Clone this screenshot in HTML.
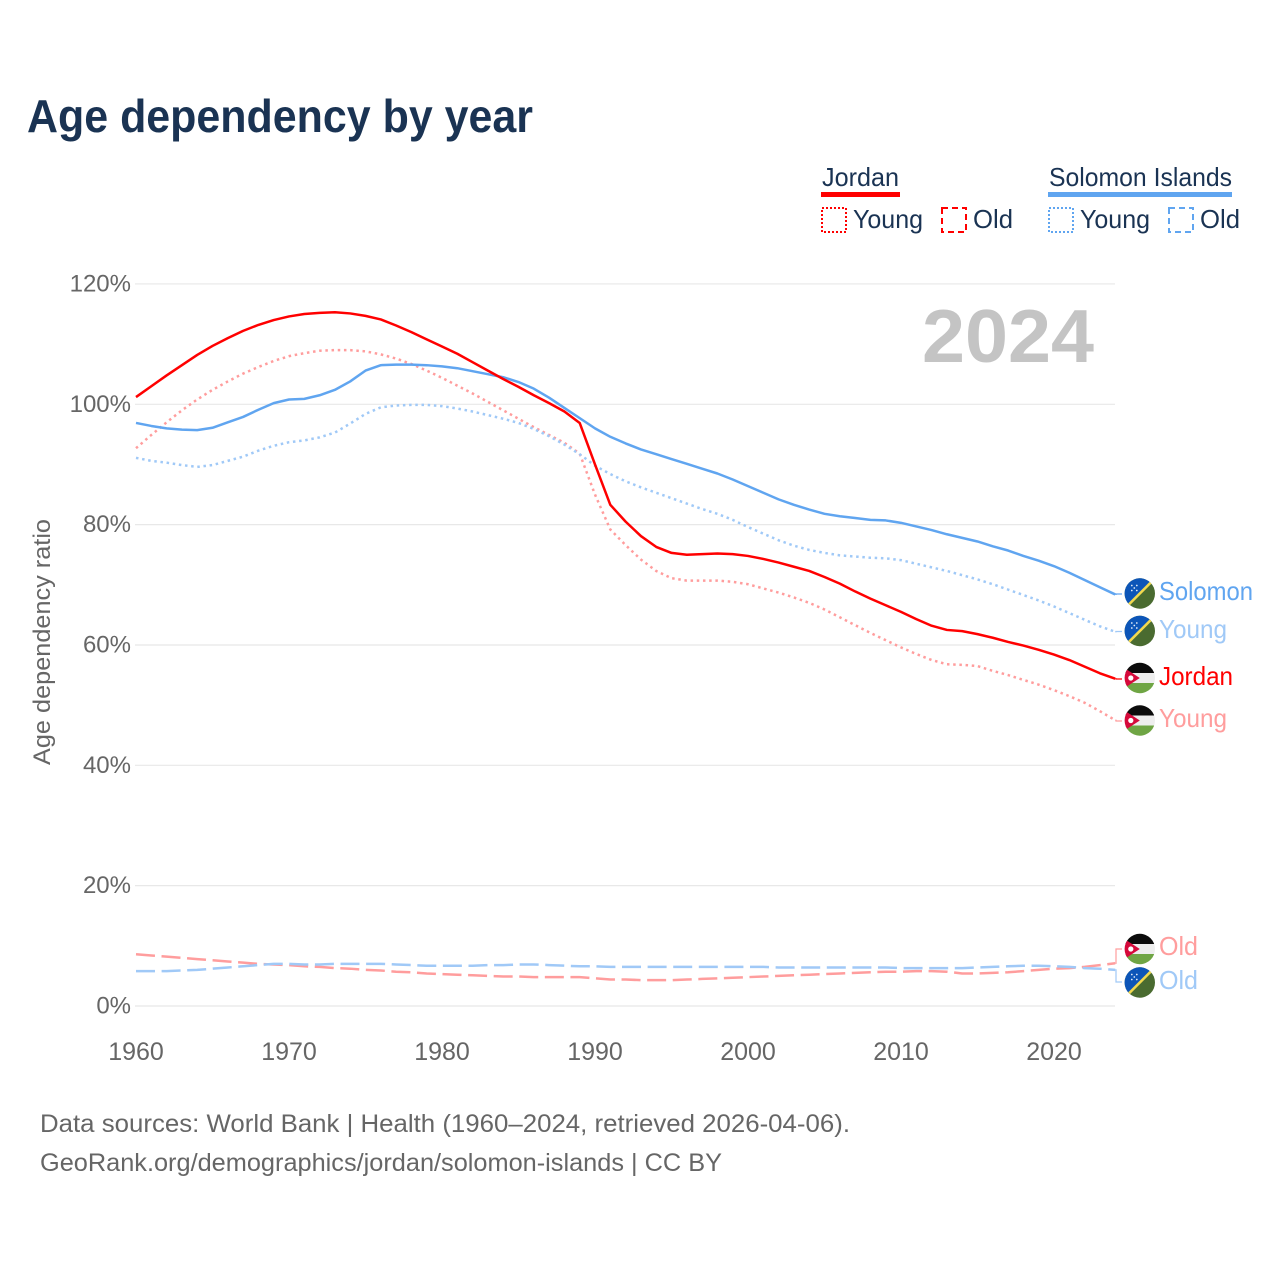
<!DOCTYPE html>
<html lang="en">
<head>
<meta charset="utf-8">
<title>Age dependency by year</title>
<style>
html,body{margin:0;padding:0;background:#fff;width:1280px;height:1280px;overflow:hidden}
svg{display:block}
text{font-family:"Liberation Sans",sans-serif}
</style>
</head>
<body>
<svg id="chart" width="1280" height="1280" viewBox="0 0 1280 1280" xmlns="http://www.w3.org/2000/svg">
<defs>
  <clipPath id="flag-clip"><circle cx="0" cy="0" r="15.2"/></clipPath>
  <g id="flag-solomon" clip-path="url(#flag-clip)">
    <rect x="-16" y="-16" width="32" height="32" fill="#4a6b30"/>
    <polygon points="-16,16 16,-16 -16,-16" fill="#0c55b8"/>
    <line x1="-16" y1="16" x2="16" y2="-16" stroke="#f2d94e" stroke-width="2.6"/>
    <g fill="#dfeaf8">
      <circle cx="-8" cy="-8" r="0.9"/><circle cx="-3" cy="-8" r="0.9"/><circle cx="-5.5" cy="-5.5" r="0.9"/><circle cx="-8" cy="-3" r="0.9"/><circle cx="-3" cy="-3" r="0.9"/>
    </g>
  </g>
  <g id="flag-jordan" clip-path="url(#flag-clip)">
    <rect x="-16" y="-16" width="32" height="11" fill="#0c0c0c"/>
    <rect x="-16" y="-5" width="32" height="10" fill="#eeeeee"/>
    <rect x="-16" y="5" width="32" height="11" fill="#6fa544"/>
    <polygon points="-16,-10.5 -16,10.5 0,0" fill="#d6093a"/>
    <circle cx="-9" cy="0" r="2.6" fill="#fff"/>
  </g>
</defs>

<text x="27" y="132" font-size="46" font-weight="700" fill="#1a3353" textLength="506" lengthAdjust="spacingAndGlyphs">Age dependency by year</text>

<g fill="#1a3353" font-size="26">
  <text x="822" y="186" textLength="77" lengthAdjust="spacingAndGlyphs">Jordan</text>
  <rect x="821" y="192" width="79" height="5" fill="#ff0000"/>
  <rect x="822" y="208" width="24" height="24" fill="none" stroke="#ff0000" stroke-width="2" stroke-dasharray="2 2"/>
  <text x="853" y="228" textLength="70" lengthAdjust="spacingAndGlyphs">Young</text>
  <rect x="942" y="208" width="24" height="24" fill="none" stroke="#ff0000" stroke-width="2" stroke-dasharray="6 4"/>
  <text x="973" y="228" textLength="40" lengthAdjust="spacingAndGlyphs">Old</text>
  <text x="1049" y="186" textLength="183" lengthAdjust="spacingAndGlyphs">Solomon Islands</text>
  <rect x="1048" y="192" width="184" height="5" fill="#60a5f0"/>
  <rect x="1049" y="208" width="24" height="24" fill="none" stroke="#60a5f0" stroke-width="2" stroke-dasharray="2 2"/>
  <text x="1080" y="228" textLength="70" lengthAdjust="spacingAndGlyphs">Young</text>
  <rect x="1169" y="208" width="24" height="24" fill="none" stroke="#60a5f0" stroke-width="2" stroke-dasharray="6 4"/>
  <text x="1200" y="228" textLength="40" lengthAdjust="spacingAndGlyphs">Old</text>
</g>

<g id="grid"></g>
<g id="yticks"></g>
<g id="xticks"></g>

<text transform="translate(50,765) rotate(-90)" x="0" y="0" font-size="24" fill="#666666" textLength="246" lengthAdjust="spacingAndGlyphs">Age dependency ratio</text>

<text x="922" y="362" font-size="75" font-weight="700" fill="#c4c4c4" textLength="172" lengthAdjust="spacingAndGlyphs">2024</text>

<g id="series"></g>

<g font-size="26">
  <use href="#flag-solomon" x="1139.8" y="593.5"/>
  <text x="1159" y="600" fill="#60a5f0" textLength="94" lengthAdjust="spacingAndGlyphs">Solomon</text>
  <use href="#flag-solomon" x="1139.8" y="631"/>
  <text x="1159" y="638" fill="#a0c9f7" textLength="68" lengthAdjust="spacingAndGlyphs">Young</text>
  <use href="#flag-jordan" x="1139.8" y="678"/>
  <text x="1159" y="685" fill="#ff0000" textLength="74" lengthAdjust="spacingAndGlyphs">Jordan</text>
  <use href="#flag-jordan" x="1139.8" y="720.5"/>
  <text x="1159" y="727" fill="#ff9d9d" textLength="68" lengthAdjust="spacingAndGlyphs">Young</text>
  <use href="#flag-jordan" x="1139.8" y="949"/>
  <text x="1159" y="955" fill="#ff9d9d" textLength="39" lengthAdjust="spacingAndGlyphs">Old</text>
  <use href="#flag-solomon" x="1139.8" y="982.5"/>
  <text x="1159" y="989" fill="#a0c9f7" textLength="39" lengthAdjust="spacingAndGlyphs">Old</text>
</g>

<g font-size="25" fill="#666666">
  <text x="40" y="1132" textLength="810" lengthAdjust="spacingAndGlyphs">Data sources: World Bank | Health (1960–2024, retrieved 2026-04-06).</text>
  <text x="40" y="1171" textLength="682" lengthAdjust="spacingAndGlyphs">GeoRank.org/demographics/jordan/solomon-islands | CC BY</text>
</g>

<script>
var startYear = 1960;
var yTicks = [0, 20, 40, 60, 80, 100, 120];
var xTicks = [1960, 1970, 1980, 1990, 2000, 2010, 2020];

var jordanTotal = [101.2,103,104.8,106.5,108.2,109.7,111,112.2,113.2,114,
114.6,115,115.2,115.3,115.1,114.7,114.1,113.1,112,110.8,
109.6,108.4,107,105.6,104.2,102.9,101.5,100.2,98.8,96.9,
90,83.3,80.5,78.1,76.3,75.3,75,75.1,75.2,75.1,
74.8,74.3,73.7,73,72.3,71.3,70.2,68.9,67.7,66.6,
65.5,64.3,63.2,62.5,62.3,61.8,61.2,60.5,59.9,59.2,
58.4,57.5,56.4,55.3,54.4];

var jordanYoung = [92.7,94.9,97,99,100.8,102.4,103.8,105.1,106.2,107.2,
108,108.5,108.9,109,109,108.8,108.3,107.6,106.7,105.6,
104.4,103.1,101.8,100.4,99,97.6,96.2,94.9,93.6,91.8,
85,79.2,76.6,74.2,72.3,71.1,70.7,70.7,70.7,70.5,
70.1,69.4,68.7,67.9,67,65.9,64.6,63.3,62,60.8,
59.6,58.5,57.5,56.8,56.7,56.5,55.7,55,54.2,53.4,
52.5,51.5,50.4,49,47.5];

var jordanOld = [8.6,8.4,8.2,8,7.8,7.6,7.4,7.2,7,6.9,
6.8,6.6,6.5,6.3,6.2,6,5.9,5.7,5.6,5.4,
5.3,5.2,5.1,5,4.9,4.9,4.8,4.8,4.8,4.8,
4.6,4.4,4.4,4.3,4.3,4.3,4.4,4.5,4.6,4.7,
4.8,4.9,5,5.1,5.2,5.3,5.4,5.5,5.6,5.7,
5.7,5.8,5.8,5.7,5.4,5.4,5.5,5.6,5.8,6,
6.2,6.3,6.5,6.8,7.1];

var solomonTotal = [96.9,96.4,96,95.8,95.7,96.1,97,97.9,99.1,100.2,
100.8,100.9,101.5,102.4,103.8,105.6,106.5,106.6,106.6,106.5,
106.3,106,105.5,105,104.5,103.7,102.6,101.1,99.4,97.7,
96,94.6,93.5,92.5,91.7,90.9,90.1,89.3,88.5,87.5,
86.4,85.3,84.2,83.3,82.5,81.8,81.4,81.1,80.8,80.7,
80.3,79.7,79.1,78.4,77.8,77.2,76.4,75.7,74.8,74,
73.1,72,70.8,69.6,68.4];

var solomonYoung = [91.1,90.6,90.3,89.9,89.6,89.9,90.6,91.3,92.3,93.1,
93.7,94,94.5,95.3,96.8,98.4,99.5,99.8,99.9,99.9,
99.7,99.3,98.8,98.2,97.6,96.9,95.9,94.7,93.3,91.7,
89.8,88.4,87.2,86.2,85.3,84.4,83.5,82.6,81.8,80.8,
79.6,78.5,77.4,76.5,75.8,75.3,74.9,74.7,74.5,74.4,
74.1,73.5,72.9,72.3,71.6,70.9,70.1,69.2,68.3,67.4,
66.4,65.3,64.2,63.1,62.2];

var solomonOld = [5.8,5.8,5.8,5.9,6,6.2,6.4,6.6,6.8,7,
7,6.9,6.9,7,7,7,7,6.9,6.8,6.7,
6.7,6.7,6.7,6.8,6.8,6.9,6.9,6.8,6.7,6.6,
6.6,6.5,6.5,6.5,6.5,6.5,6.5,6.5,6.5,6.5,
6.5,6.5,6.4,6.4,6.4,6.4,6.4,6.4,6.4,6.4,
6.3,6.3,6.3,6.3,6.3,6.4,6.5,6.6,6.7,6.7,
6.6,6.5,6.3,6.2,6];

var NS = 'http://www.w3.org/2000/svg';
function xScale(year){ return 136 + (year - 1960) * 15.3; }
function yScale(v){ return 1006 - v * 6.017; }

var gridG = document.getElementById('grid');
var yG = document.getElementById('yticks');
var xG = document.getElementById('xticks');
var seriesG = document.getElementById('series');

yTicks.forEach(function(t){
  var l = document.createElementNS(NS, 'line');
  
  
  l.setAttribute('x1', 135);
  l.setAttribute('x2', 1115);
  l.setAttribute('y1', yScale(t));
  l.setAttribute('y2', yScale(t));
  l.setAttribute('stroke', '#e8e8e8');
  l.setAttribute('stroke-width', 1.2);
  gridG.appendChild(l);
  var s = document.createElementNS(NS, 'text');
  
  
  s.setAttribute('x', 131);
  s.setAttribute('y', yScale(t) + 7.5);
  s.setAttribute('text-anchor', 'end');
  s.setAttribute('font-size', 24);
  s.setAttribute('fill', '#666666');
  s.textContent = t + '%';
  yG.appendChild(s);
});

xTicks.forEach(function(t){
  var s = document.createElementNS(NS, 'text');
  
  
  s.setAttribute('x', xScale(t));
  s.setAttribute('y', 1060);
  s.setAttribute('text-anchor', 'middle');
  s.setAttribute('font-size', 25);
  s.setAttribute('fill', '#666666');
  s.textContent = t;
  xG.appendChild(s);
});

function drawSeries(name, values, color, dash, labelY){
  var p = document.createElementNS(NS, 'polyline');
  
  
  var pts = values.map(function(v, i){
    return xScale(startYear + i).toFixed(2) + ',' + yScale(v).toFixed(2);
  }).join(' ');
  p.setAttribute('points', pts);
  p.setAttribute('fill', 'none');
  p.setAttribute('stroke', color);
  p.setAttribute('stroke-width', 2.5);
  p.setAttribute('stroke-linejoin', 'round');
  if (dash) p.setAttribute('stroke-dasharray', dash);
  seriesG.appendChild(p);
  var ex = xScale(startYear + values.length - 1);
  var ey = yScale(values[values.length - 1]);
  var c = document.createElementNS(NS, 'path');
  
  
  c.setAttribute('d', 'M' + ex.toFixed(2) + ' ' + ey.toFixed(2) + 'H' + (ex + 0.8).toFixed(2) + 'V' + labelY + 'H1122');
  c.setAttribute('fill', 'none');
  c.setAttribute('stroke', color);
  c.setAttribute('stroke-width', 1.2);
  seriesG.appendChild(c);
}

drawSeries('jordan-old-line', jordanOld, '#ff9d9d', '19 6.6', 949);
drawSeries('solomon-old-line', solomonOld, '#a0c9f7', '19 6.6', 982);
drawSeries('jordan-young-line', jordanYoung, '#ff9d9d', '2.5 3.7', 721);
drawSeries('solomon-young-line', solomonYoung, '#a0c9f7', '2.5 3.7', 631.5);
drawSeries('solomon-total-line', solomonTotal, '#60a5f0', '', 594);
drawSeries('jordan-total-line', jordanTotal, '#ff0000', '', 679);
</script>
</svg>
</body>
</html>
